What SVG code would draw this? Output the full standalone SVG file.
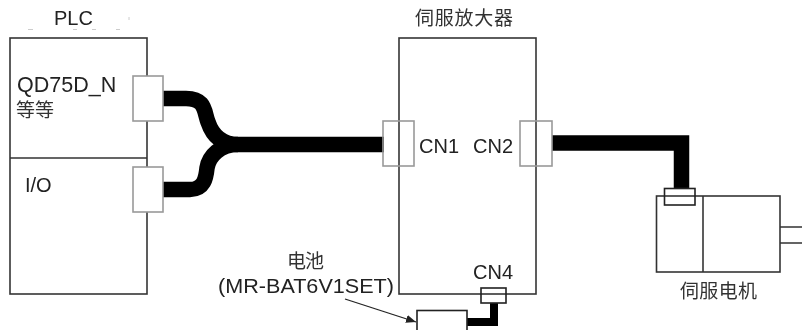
<svg xmlns="http://www.w3.org/2000/svg" width="802" height="330" viewBox="0 0 802 330">
<defs>
<marker id="ah" viewBox="0 0 10 8" refX="10" refY="4" markerWidth="10" markerHeight="8" markerUnits="userSpaceOnUse" orient="auto"><path d="M0 0L10 4L0 8Z" fill="#222"/></marker>
<filter id="soft" x="-2%" y="-2%" width="104%" height="104%"><feGaussianBlur stdDeviation="0.45"/></filter>
</defs>
<style>
text{font-family:"Liberation Sans","Noto Sans CJK SC",sans-serif;font-size:20px;fill:#222}
.cjk{font-size:19px;fill:#333;font-family:"Noto Sans CJK SC",sans-serif}
.box{fill:none;stroke:#333;stroke-width:1.6}
.conn{fill:#fff;stroke:#999;stroke-width:1.6}
.open{fill:none;stroke:#999;stroke-width:1.6}
.dark{fill:#fff;stroke:#222;stroke-width:1.6}
.cable{fill:none;stroke:#000;stroke-width:15.5}
</style>
<rect width="802" height="330" fill="#fff"/>
<g filter="url(#soft)">
<g id="connectors">
<path class="cable" d="M163 98.500H186C206 98.500 204 112 208 122C212 134 220 144.500 238 144.500H384"/>
<path class="cable" d="M163 189.500H190C204 189.500 206 178 207 168C209 156 220 144.500 238 144.500"/>
<path class="cable" d="M552 143H681.500V189"/>
<path fill="none" stroke="#000" stroke-width="8" d="M467 322H494V303"/>
<path fill="none" stroke="#222" stroke-width="1.300" marker-end="url(#ah)" d="M345 299L416 322"/>
</g>
<g id="plc">
<rect class="box" x="10" y="38" width="137" height="256"/>
<line class="box" x1="10" y1="158" x2="147" y2="158"/>
<rect class="conn" x="133" y="76" width="30" height="45"/>
<rect class="conn" x="133" y="167" width="30" height="45"/>
<text x="54" y="25">PLC</text>
<text x="17" y="92" style="font-size:21.500px">QD75D_N</text>
<text class="cjk" x="16" y="117" textLength="38">等等</text>
<text x="25" y="192">I/O</text>
<path stroke="#ccc" stroke-width="1" d="M28 29.500h5M73 29.500h4M92 29.500h4M116 29.500h4M129 17v3"/>
</g>
<g id="servo-amp">
<rect class="box" x="399" y="38" width="137" height="256"/>
<rect class="open" x="383" y="121" width="31" height="45"/>
<rect class="open" x="520" y="121" width="32" height="45"/>
<text class="cjk" x="415" y="25" textLength="98">伺服放大器</text>
<text x="419" y="153">CN1</text>
<text x="473" y="153">CN2</text>
<text x="473" y="279">CN4</text>
<rect x="481" y="288" width="25" height="15" fill="none" stroke="#222" stroke-width="1.600"/>
</g>
<g id="motor">
<rect class="box" x="656.500" y="196" width="123.500" height="76"/>
<line class="box" x1="703" y1="196" x2="703" y2="272"/>
<path class="box" d="M780 227H802M780 243H802"/>
<rect x="664.500" y="188.500" width="30.500" height="16.500" fill="none" stroke="#222" stroke-width="1.600"/>
<text class="cjk" x="680" y="298" textLength="77">伺服电机</text>
</g>
<g id="battery">
<rect class="dark" x="417" y="310.500" width="50" height="30"/>
<text class="cjk" x="287" y="268" textLength="37">电池</text>
<text x="218" y="293" textLength="176" lengthAdjust="spacingAndGlyphs">(MR-BAT6V1SET)</text>
</g>
</g>
</svg>
